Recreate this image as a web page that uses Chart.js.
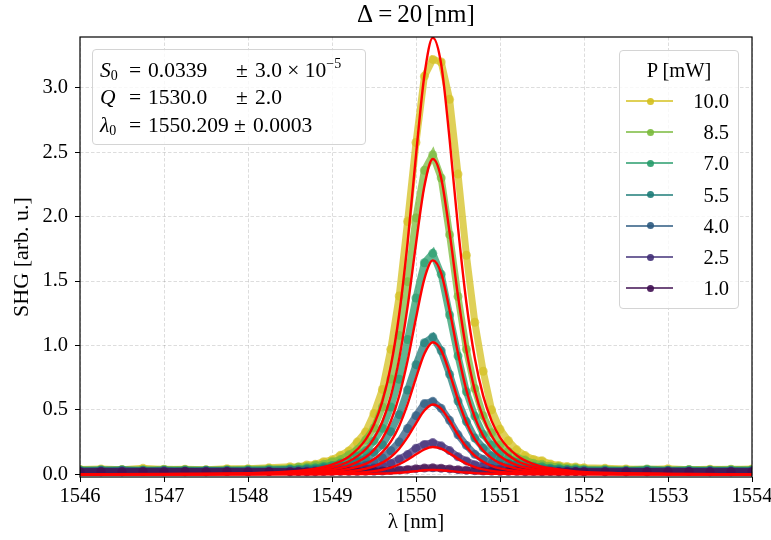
<!DOCTYPE html>
<html>
<head>
<meta charset="utf-8">
<title>SHG resonance</title>
<script src="https://cdn.jsdelivr.net/npm/chart.js@4.4.1/dist/chart.umd.min.js"></script>
<style>
  html, body { margin: 0; padding: 0; background: #fff; }
  #wrap { position: relative; width: 771px; height: 540px; font-family: 'Liberation Serif', serif; color: #000; }
  #wrap canvas { position: absolute; left: 0; top: 0; }
  .title { position: absolute; left: 80px; width: 672px; top: 0px; text-align: center; font-size: 25px; white-space: nowrap; }
  .title .eq { margin: 0 5px; }
  .title .unit { margin-left: 4px; }
  .fitbox { position: absolute; left: 92px; top: 49px; width: 272px; height: 94px; border: 1px solid #d4d4d4; border-radius: 4px; background: rgba(255,255,255,0.8); font-size: 21.5px; }
  .fitbox .row { position: absolute; left: 0; width: 100%; height: 26px; line-height: 26px; }
  .fitbox .row span { position: absolute; top: 0; white-space: nowrap; }
  .fitbox sub { font-size: 14px; vertical-align: -3px; font-style: normal; }
  .fitbox sup { font-size: 14px; vertical-align: 9px; line-height: 0; }
  .legend { position: absolute; left: 619px; top: 50px; width: 118px; height: 257px; border: 1px solid #d4d4d4; border-radius: 4px; background: rgba(255,255,255,0.8); font-size: 20.5px; }
  .legend .ltitle { position: absolute; left: 0; width: 100%; top: 8px; text-align: center; }
  .legend .entry { position: absolute; left: 0; width: 100%; height: 24px; }
  .legend .swline { position: absolute; left: 6px; width: 47px; top: 11px; height: 2px; }
  .legend .swdot { position: absolute; left: 26.5px; top: 8.5px; width: 7px; height: 7px; border-radius: 50%; }
  .legend .lab { position: absolute; right: 9px; top: 0; line-height: 24px; }
</style>
</head>
<body>
<div id="wrap">
  <canvas id="shgChart" width="771" height="540"></canvas>
  <div class="title">Δ<span class="eq">=</span>20<span class="unit">[nm]</span></div>
  <div class="fitbox">
    <div class="row" style="top:7px">
      <span style="left:7px"><i>S</i><sub>0</sub></span>
      <span style="left:36px">=</span>
      <span style="left:55px">0.0339</span>
      <span style="left:143px">±</span>
      <span style="left:162px">3.0 × 10<sup>−5</sup></span>
    </div>
    <div class="row" style="top:34px">
      <span style="left:7px"><i>Q</i></span>
      <span style="left:36px">=</span>
      <span style="left:55px">1530.0</span>
      <span style="left:143px">±</span>
      <span style="left:162px">2.0</span>
    </div>
    <div class="row" style="top:62px">
      <span style="left:7px"><i>λ</i><sub>0</sub></span>
      <span style="left:36px">=</span>
      <span style="left:55px">1550.209</span>
      <span style="left:141px">±</span>
      <span style="left:160px">0.0003</span>
    </div>
  </div>
  <div class="legend" id="legend">
    <div class="ltitle">P [mW]</div>
  </div>
</div>
<script>
// laser power per series (legend order)
const powers = ["10.0", "8.5", "7.0", "5.5", "4.0", "2.5", "1.0"];

// measured SHG, wavelength grid shared by every power
const dataX = [
  1546, 1546.25, 1546.5, 1546.75, 1547, 1547.25, 1547.5, 1547.75, 1548, 1548.25,
  1548.5, 1548.6, 1548.7, 1548.8, 1548.9, 1549, 1549.1, 1549.2, 1549.3, 1549.4,
  1549.5, 1549.6, 1549.7, 1549.8, 1549.9, 1550, 1550.1, 1550.2, 1550.3, 1550.4,
  1550.5, 1550.6, 1550.7, 1550.8, 1550.9, 1551, 1551.1, 1551.2, 1551.3, 1551.4,
  1551.5, 1551.6, 1551.7, 1551.8, 1551.9, 1552,
  1552.25, 1552.5, 1552.75, 1553, 1553.25, 1553.5, 1553.75, 1554,
];
const shg100 = [
  0.038, 0.042, 0.035, 0.046, 0.037, 0.040, 0.036, 0.043, 0.044, 0.050,
  0.058, 0.057, 0.072, 0.077, 0.098, 0.112, 0.147, 0.181, 0.250, 0.329,
  0.472, 0.659, 0.970, 1.384, 1.962, 2.575, 3.09, 3.22, 3.20, 2.91,
  2.33, 1.70, 1.18, 0.80, 0.50, 0.35, 0.26, 0.19, 0.145, 0.115,
  0.105, 0.080, 0.068, 0.060, 0.056, 0.050,
  0.046, 0.041, 0.038, 0.043, 0.036, 0.040, 0.037, 0.042,
];
const shg85 = [
  0.036, 0.031, 0.038, 0.034, 0.040, 0.035, 0.033, 0.037, 0.039, 0.044,
  0.046, 0.056, 0.058, 0.071, 0.077, 0.098, 0.114, 0.151, 0.190, 0.266,
  0.360, 0.522, 0.739, 1.078, 1.495, 1.99, 2.36, 2.48, 2.30, 1.86,
  1.38, 0.97, 0.665, 0.455, 0.322, 0.228, 0.177, 0.131, 0.110, 0.085,
  0.077, 0.062, 0.059, 0.049, 0.048, 0.042,
  0.040, 0.036, 0.041, 0.034, 0.038, 0.035, 0.039, 0.036,
];
const shg70 = [
  0.031, 0.035, 0.030, 0.033, 0.029, 0.034, 0.032, 0.030, 0.034, 0.036,
  0.040, 0.039, 0.047, 0.050, 0.061, 0.068, 0.087, 0.104, 0.141, 0.182,
  0.259, 0.357, 0.522, 0.738, 1.046, 1.368, 1.642, 1.715, 1.553, 1.236,
  0.918, 0.640, 0.452, 0.310, 0.227, 0.161, 0.127, 0.094, 0.080, 0.063,
  0.058, 0.047, 0.045, 0.038, 0.039, 0.033,
  0.033, 0.030, 0.035, 0.031, 0.034, 0.029, 0.032, 0.033,
];
const shg55 = [
  0.028, 0.030, 0.033, 0.027, 0.031, 0.028, 0.030, 0.032, 0.029, 0.032,
  0.035, 0.033, 0.039, 0.040, 0.048, 0.051, 0.064, 0.073, 0.097, 0.121,
  0.170, 0.229, 0.331, 0.463, 0.654, 0.851, 1.021, 1.066, 0.959, 0.776,
  0.568, 0.409, 0.282, 0.205, 0.144, 0.113, 0.084, 0.071, 0.056, 0.051,
  0.042, 0.041, 0.035, 0.036, 0.031, 0.032,
  0.030, 0.028, 0.031, 0.029, 0.027, 0.031, 0.029, 0.030,
];
const shg40 = [
  0.024, 0.027, 0.023, 0.026, 0.025, 0.022, 0.026, 0.024, 0.025, 0.024,
  0.026, 0.024, 0.028, 0.027, 0.033, 0.034, 0.042, 0.045, 0.059, 0.070,
  0.097, 0.127, 0.183, 0.251, 0.355, 0.455, 0.549, 0.566, 0.512, 0.419,
  0.306, 0.224, 0.155, 0.116, 0.083, 0.067, 0.050, 0.045, 0.036, 0.034,
  0.028, 0.029, 0.025, 0.026, 0.023, 0.024,
  0.023, 0.025, 0.022, 0.026, 0.024, 0.023, 0.025, 0.024,
];
const shg25 = [
  0.022, 0.020, 0.024, 0.021, 0.023, 0.020, 0.022, 0.023, 0.021, 0.022,
  0.021, 0.023, 0.022, 0.025, 0.024, 0.027, 0.027, 0.032, 0.034, 0.043,
  0.049, 0.066, 0.084, 0.118, 0.153, 0.202, 0.232, 0.246, 0.221, 0.184,
  0.136, 0.104, 0.074, 0.060, 0.045, 0.040, 0.032, 0.031, 0.026, 0.026,
  0.023, 0.023, 0.022, 0.023, 0.021, 0.022,
  0.021, 0.022, 0.020, 0.023, 0.021, 0.022, 0.020, 0.022,
];
const shg10 = [
  0.020, 0.022, 0.019, 0.021, 0.020, 0.023, 0.019, 0.021, 0.020, 0.021,
  0.020, 0.021, 0.019, 0.020, 0.021, 0.021, 0.022, 0.021, 0.022, 0.023,
  0.024, 0.026, 0.029, 0.033, 0.038, 0.044, 0.048, 0.050, 0.047, 0.042,
  0.036, 0.031, 0.028, 0.025, 0.024, 0.022, 0.021, 0.022, 0.020, 0.021,
  0.020, 0.021, 0.019, 0.020, 0.021, 0.020,
  0.020, 0.019, 0.021, 0.020, 0.022, 0.019, 0.021, 0.020,
];

// fitted curves (red)
const fitX = [
  1546, 1547, 1548, 1548.5, 1548.8, 1549, 1549.2, 1549.4, 1549.5, 1549.6,
  1549.7, 1549.8, 1549.9, 1550, 1550.1, 1550.2, 1550.3, 1550.4, 1550.5, 1550.6,
  1550.7, 1550.8, 1550.9, 1551, 1551.2, 1551.4, 1551.6, 1551.9, 1552.4, 1553, 1554,
];
const fit100 = [0.0007, 0.0020, 0.0085, 0.0221, 0.0444, 0.0756, 0.1374, 0.2690, 0.3871, 0.5671, 0.8394, 1.2424, 1.8008, 2.4757, 3.0968, 3.3880, 3.1815, 2.5988, 1.9164, 1.3313, 0.9014, 0.6082, 0.4143, 0.2868, 0.1455, 0.0796, 0.0465, 0.0230, 0.0087, 0.0034, 0.0010];
const fit85 = [0.0005, 0.0014, 0.0061, 0.0160, 0.0321, 0.0546, 0.0993, 0.1943, 0.2797, 0.4097, 0.6064, 0.8976, 1.3009, 1.7885, 2.2372, 2.4475, 2.2984, 1.8774, 1.3844, 0.9617, 0.6512, 0.4393, 0.2993, 0.2072, 0.1051, 0.0575, 0.0336, 0.0166, 0.0063, 0.0025, 0.0008];
const fit70 = [0.0003, 0.0010, 0.0041, 0.0108, 0.0218, 0.0370, 0.0673, 0.1318, 0.1897, 0.2779, 0.4113, 0.6088, 0.8823, 1.2130, 1.5173, 1.6600, 1.5588, 1.2733, 0.9390, 0.6523, 0.4417, 0.2980, 0.2030, 0.1405, 0.0713, 0.0390, 0.0228, 0.0113, 0.0043, 0.0017, 0.0005];
const fit55 = [0.0002, 0.0006, 0.0026, 0.0067, 0.0134, 0.0229, 0.0415, 0.0813, 0.1171, 0.1715, 0.2538, 0.3757, 0.5445, 0.7486, 0.9363, 1.0244, 0.9620, 0.7858, 0.5794, 0.4025, 0.2725, 0.1839, 0.1253, 0.0867, 0.0440, 0.0241, 0.0141, 0.0070, 0.0026, 0.0010, 0.0003];
const fit40 = [0.0001, 0.0003, 0.0014, 0.0035, 0.0071, 0.0121, 0.0220, 0.0430, 0.0619, 0.0907, 0.1342, 0.1986, 0.2879, 0.3958, 0.4951, 0.5417, 0.5087, 0.4155, 0.3064, 0.2128, 0.1441, 0.0972, 0.0662, 0.0459, 0.0233, 0.0127, 0.0074, 0.0037, 0.0014, 0.0006, 0.0002];
const fit25 = [0.0000, 0.0001, 0.0005, 0.0014, 0.0028, 0.0047, 0.0086, 0.0168, 0.0242, 0.0355, 0.0525, 0.0777, 0.1126, 0.1548, 0.1937, 0.2119, 0.1990, 0.1625, 0.1198, 0.0833, 0.0564, 0.0380, 0.0259, 0.0179, 0.0091, 0.0050, 0.0029, 0.0014, 0.0005, 0.0002, 0.0001];
const fit10 = [0.0000, 0.0000, 0.0001, 0.0002, 0.0004, 0.0008, 0.0014, 0.0027, 0.0039, 0.0057, 0.0084, 0.0125, 0.0181, 0.0248, 0.0311, 0.0340, 0.0319, 0.0261, 0.0192, 0.0134, 0.0090, 0.0061, 0.0042, 0.0029, 0.0015, 0.0008, 0.0005, 0.0002, 0.0001, 0.0000, 0.0000];

const xTicks = [1546, 1547, 1548, 1549, 1550, 1551, 1552, 1553, 1554];
const yTicks = [0.0, 0.5, 1.0, 1.5, 2.0, 2.5, 3.0];

const measured = [shg100, shg85, shg70, shg55, shg40, shg25, shg10];
const fits = [fit100, fit85, fit70, fit55, fit40, fit25, fit10];

// viridis-ish, as they look in the picture
const COLORS = [
  [212, 192, 30],
  [122, 186, 60],
  [40, 156, 108],
  [30, 124, 120],
  [44, 90, 128],
  [66, 48, 120],
  [64, 16, 82],
];
const rgba = (c, a) => `rgba(${c[0]}, ${c[1]}, ${c[2]}, ${a})`;

const toPoints = (xs, ys) => xs.map((x, i) => ({ x: x, y: ys[i] }));

const datasets = [];
measured.forEach((ys, i) => {
  datasets.push({
    label: powers[i],
    data: toPoints(dataX, ys),
    borderColor: rgba(COLORS[i], 0.74),
    backgroundColor: rgba(COLORS[i], 0.65),
    borderWidth: 7,
    pointRadius: 4.5,
    pointBorderWidth: 0,
    tension: 0,
    // 10.0 drawn first, 1.0 last
    order: measured.length - i,
  });
});
measured.forEach((ys, i) => {
  datasets.push({
    label: "fit " + powers[i],
    data: toPoints(fitX, fits[i]),
    borderColor: "rgb(255, 0, 0)",
    borderWidth: 2.4,
    pointRadius: 0,
    cubicInterpolationMode: "monotone",
    order: 0,
  });
});

const frame = {
  id: "frame",
  afterDraw(chart) {
    const { ctx, chartArea: a } = chart;
    ctx.save();
    ctx.strokeStyle = "#000";
    ctx.lineWidth = 1.2;
    ctx.strokeRect(a.left, a.top, a.right - a.left, a.bottom - a.top);
    ctx.restore();
  },
};

Chart.defaults.font.family = "'Liberation Serif', serif";
Chart.defaults.color = "#000";

const shgChart = new Chart(document.getElementById("shgChart"), {
  type: "line",
  data: { datasets: datasets },
  options: {
    responsive: false,
    animation: false,
    layout: { padding: { top: 37, right: 19, left: 0, bottom: 0 } },
    plugins: {
      legend: { display: false },
      tooltip: { enabled: false },
    },
    scales: {
      x: {
        type: "linear",
        min: 1546,
        max: 1554,
        afterBuildTicks: (s) => { s.ticks = xTicks.map((v) => ({ value: v })); },
        ticks: { callback: (v) => String(v), font: { size: 20.5 }, padding: 2, maxRotation: 0 },
        grid: { color: "rgba(0,0,0,0.17)", lineWidth: 0.8, tickColor: "#000", tickLength: 5, tickWidth: 1 },
        border: { display: false, dash: [3.5, 2] },
        title: { display: true, text: "λ [nm]", font: { size: 21 }, padding: { top: 0, bottom: 5 } },
        afterFit: (s) => { s.height = 63; s.paddingLeft = 0; s.paddingRight = 0; },
      },
      y: {
        min: -0.021,
        max: 3.394,
        afterBuildTicks: (s) => { s.ticks = yTicks.map((v) => ({ value: v })); },
        ticks: { callback: (v) => v.toFixed(1), font: { size: 20.5 }, padding: 7 },
        grid: { color: "rgba(0,0,0,0.17)", lineWidth: 0.8, tickColor: "#000", tickLength: 5, tickWidth: 1 },
        border: { display: false, dash: [3.5, 2] },
        title: { display: true, text: "SHG [arb. u.]", font: { size: 22 }, padding: { top: 9, bottom: 0 } },
        afterFit: (s) => { s.width = 80; },
      },
    },
  },
  plugins: [frame],
});

// legend: line + marker, labels right aligned
const legendBox = document.getElementById("legend");
powers.forEach((p, i) => {
  const row = document.createElement("div");
  row.className = "entry";
  row.style.top = (50 + i * 31.2 - 12) + "px";
  row.innerHTML =
    `<div class="swline" style="background:${rgba(COLORS[i], 0.75)}"></div>` +
    `<div class="swdot" style="background:${rgba(COLORS[i], 0.9)}"></div>` +
    `<div class="lab">${p}</div>`;
  legendBox.appendChild(row);
});
</script>
</body>
</html>
